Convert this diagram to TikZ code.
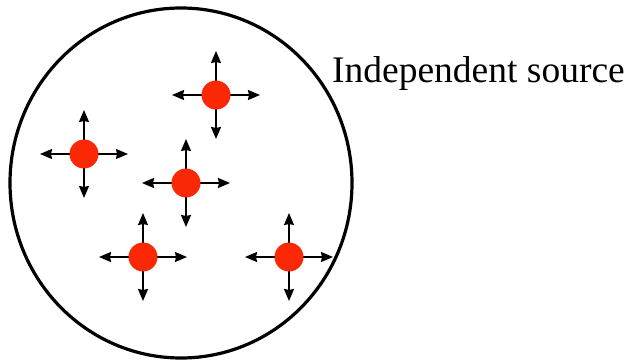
\documentclass[tikz,border=0pt]{standalone}
\usepackage{fontspec}
\setmainfont{Liberation Serif}
\usetikzlibrary{arrows.meta,shapes.geometric}
\definecolor{dotred}{RGB}{250,40,5}
\tikzset{
  dot/.style={circle,fill=dotred,draw=none,minimum size=29pt,inner sep=0pt},
  arr/.style={line width=1.8pt,-{Stealth[length=12pt,width=10pt,inset=1pt]}},
  frame/.style={ellipse,draw,line width=3.2pt,minimum width=342pt,minimum height=350pt,inner sep=0pt},
}
\begin{document}
\begin{tikzpicture}[x=1pt,y=-1pt]
\useasboundingbox (0,0) rectangle (628,363);
\node[frame] (frame) at (181,183) {};
\foreach \n/\x/\y in {a/216/95, b/84/154, c/186/183, d/143/257, e/289/257}{
  \coordinate (\n) at (\x,\y);
  \coordinate (\n E) at (\x+44,\y);
  \coordinate (\n W) at (\x-44,\y);
  \coordinate (\n N) at (\x,\y-44);
  \coordinate (\n S) at (\x,\y+44);
  \draw[arr] (\n) -- (\n E);
  \draw[arr] (\n) -- (\n W);
  \draw[arr] (\n) -- (\n N);
  \draw[arr] (\n) -- (\n S);
  \node[dot] (\n dot) at (\n) {};
}
\node[anchor=base west,inner sep=0pt,font=\fontsize{37.5}{40}\selectfont] (label) at (332,83) {Independent source};
\end{tikzpicture}
\end{document}
